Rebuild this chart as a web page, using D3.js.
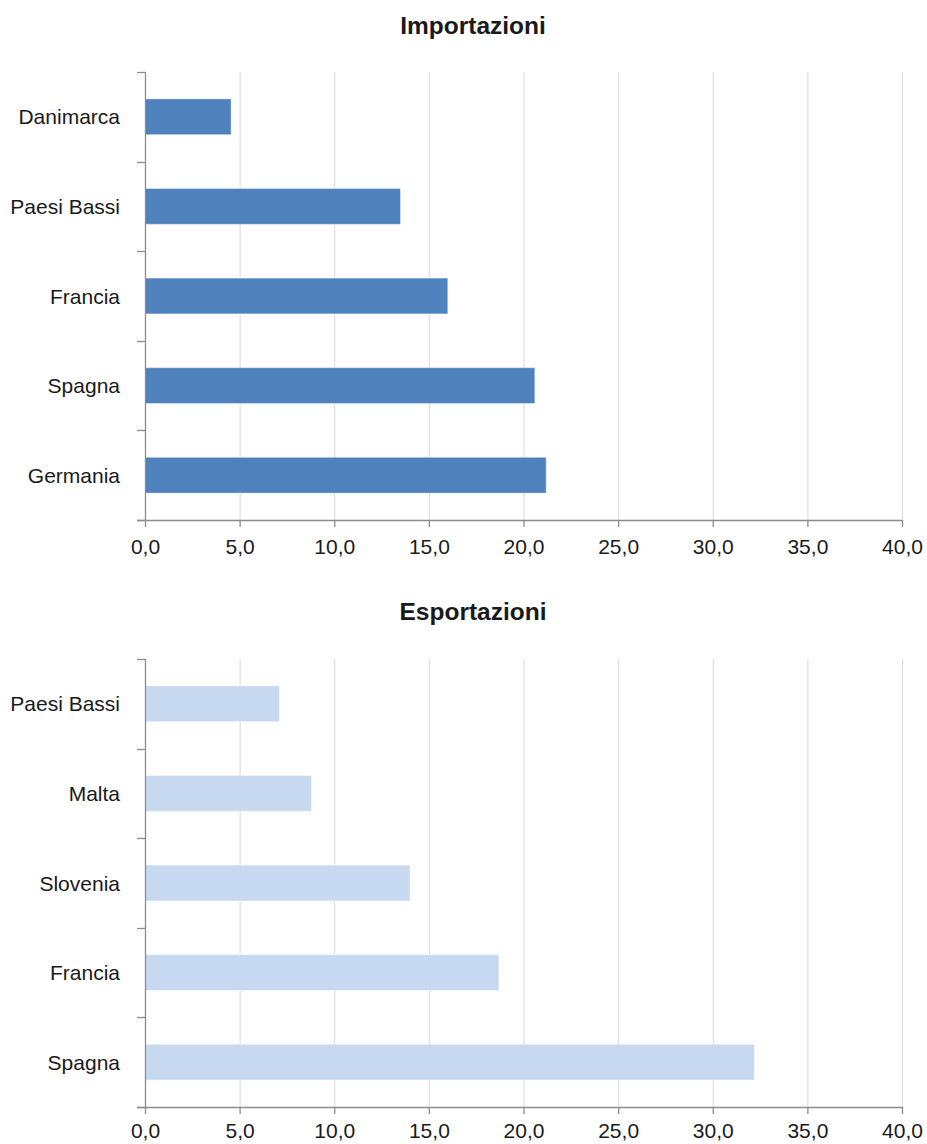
<!DOCTYPE html>
<html>
<head>
<meta charset="utf-8">
<script src="https://cdn.jsdelivr.net/npm/d3@7"></script>
<style>
  html, body { margin: 0; padding: 0; background: #fff; }
  svg { display: block; }
  text { font-family: "Liberation Sans", Arial, sans-serif; fill: #1a1a1a; }
</style>
</head>
<body>
<svg id="chart" width="927" height="1144"></svg>
<script>
// ---- Data ----
const importCategories = ["Danimarca", "Paesi Bassi", "Francia", "Spagna", "Germania"];
const importValues = [4.55, 13.5, 16.0, 20.6, 21.2];
const exportCategories = ["Paesi Bassi", "Malta", "Slovenia", "Francia", "Spagna"];
const exportValues = [7.1, 8.8, 14.0, 18.7, 32.2];
const xTicks = [0, 5, 10, 15, 20, 25, 30, 35, 40];
const titles = ["Importazioni", "Esportazioni"];

const svg = d3.select("#chart");
const fmt = v => d3.format(".1f")(v).replace(".", ",");

function drawPanel(cfg) {
  const { title, cats, vals, color, top, bottom, titleY, pad } = cfg;
  const left = 145, right = 902;
  const g = svg.append("g");

  const x = d3.scaleLinear().domain([0, 40]).range([left, right]);
  const y = d3.scaleBand().domain(cats).range([top, bottom])
    .paddingInner(0.6).paddingOuter(0.3);
  const yb = d3.scaleBand().domain(cats).range([top, bottom]).padding(0);

  // title
  g.append("text")
    .attr("x", 473).attr("y", titleY)
    .attr("text-anchor", "middle")
    .attr("dominant-baseline", "central")
    .style("font-size", "24.5px").style("font-weight", "bold")
    .attr("fill", "#000")
    .text(title);

  // gridlines
  g.selectAll(".grid").data(xTicks.filter(d => d > 0)).join("line")
    .attr("x1", d => x(d) + 0.5).attr("x2", d => x(d) + 0.5)
    .attr("y1", top).attr("y2", bottom)
    .attr("stroke", "#d9d9d9").attr("stroke-width", 1);

  // bars
  g.selectAll(".bar").data(cats).join("rect")
    .attr("x", x(0))
    .attr("y", d => y(d))
    .attr("width", (d, i) => x(vals[i]) - x(0))
    .attr("height", y.bandwidth())
    .attr("fill", color)
    .attr("stroke", "rgba(255,255,255,0.45)")
    .attr("stroke-width", 1);

  // y axis line + boundary ticks
  const bounds = cats.map(c => yb(c)).concat([bottom]);
  g.append("line")
    .attr("x1", left + 0.5).attr("x2", left + 0.5)
    .attr("y1", top).attr("y2", bottom)
    .attr("stroke", "#8c8c8c").attr("stroke-width", 1.3);
  g.selectAll(".ytick").data(bounds).join("line")
    .attr("x1", left - 8).attr("x2", left)
    .attr("y1", d => Math.round(d) + 0.5).attr("y2", d => Math.round(d) + 0.5)
    .attr("stroke", "#8c8c8c").attr("stroke-width", 1.3);

  // y labels
  g.selectAll(".ylab").data(cats).join("text")
    .attr("x", 120)
    .attr("y", d => yb(d) + yb.bandwidth() / 2)
    .attr("text-anchor", "end")
    .attr("dominant-baseline", "central")
    .style("font-size", "21px")
    .text(d => d);

  // x axis
  const xAxis = g.append("g")
    .attr("transform", `translate(0,${bottom})`)
    .call(d3.axisBottom(x).tickValues(xTicks).tickFormat(fmt).tickSize(7).tickPadding(pad));
  xAxis.select(".domain").attr("stroke", "#8c8c8c").attr("stroke-width", 1.3)
    .attr("d", `M${left - 8},0.5H${right}`);
  xAxis.selectAll(".tick line").attr("stroke", "#8c8c8c").attr("stroke-width", 1.3);
  xAxis.selectAll(".tick text")
    .style("font-size", "21px")
    .style("font-family", '"Liberation Sans", Arial, sans-serif')
    .attr("fill", "#1a1a1a");
}

drawPanel({ title: titles[0], cats: importCategories, vals: importValues,
  color: "#4f81bd", top: 72, bottom: 520, titleY: 25, pad: 12 });
drawPanel({ title: titles[1], cats: exportCategories, vals: exportValues,
  color: "#c6d9f1", top: 659, bottom: 1107, titleY: 611, pad: 9 });
</script>
</body>
</html>
